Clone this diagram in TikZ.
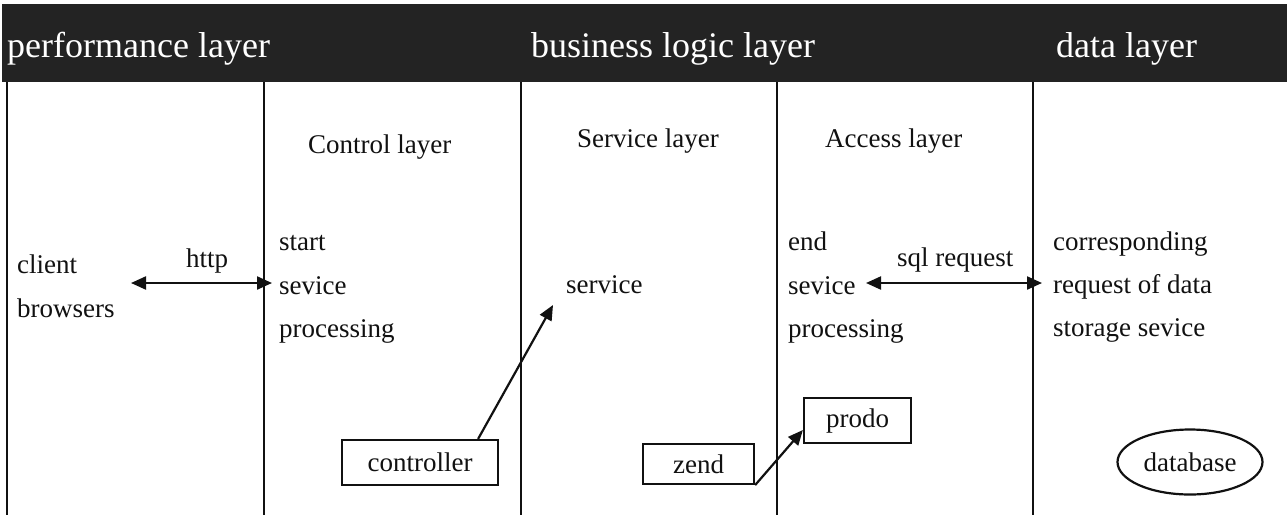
\documentclass[tikz,border=0pt]{standalone}
\usepackage{fontspec}
\setmainfont{Liberation Serif}
\usetikzlibrary{arrows.meta,shapes.geometric}
\definecolor{hdr}{HTML}{232323}
\definecolor{ink}{HTML}{111111}
\tikzset{
  hdrtext/.style={anchor=base west,inner sep=0pt,text=white,font=\fontsize{36}{40}\selectfont},
  bodytext/.style={anchor=base west,inner sep=0pt,text=ink,font=\fontsize{27}{32}\selectfont},
  sep/.style={draw=ink,line width=2.8pt},
  boxnode/.style={draw=ink,line width=2.2pt,rectangle,inner sep=0pt,text=ink,font=\fontsize{27}{32}\selectfont},
  ellnode/.style={draw=ink,line width=2.2pt,ellipse,inner sep=0pt,text=ink,font=\fontsize{27}{32}\selectfont},
  conn/.style={draw=ink,line width=2.2pt},
  tip/.style={-{Triangle[length=15pt,width=13pt]}},
  twotip/.style={{Triangle[length=15pt,width=13pt]}-{Triangle[length=15pt,width=13pt]}}
}
\begin{document}
\begin{tikzpicture}[x=1pt,y=-1pt]
\useasboundingbox (0,0) rectangle (1287,515);
\fill[white] (0,0) rectangle (1287,515);
% header bar
\fill[hdr] (2,4) rectangle (1287,82);
\node[hdrtext] (hp) at (7,57) {performance layer};
\node[hdrtext] (hb) at (531,57) {business logic layer};
\node[hdrtext] (hd) at (1056,57) {data layer};
% column separators
\draw[sep] (7,82) -- (7,515);
\draw[sep] (264,82) -- (264,515);
\draw[sep] (521,82) -- (521,515);
\draw[sep] (777,82) -- (777,515);
\draw[sep] (1033,82) -- (1033,515);
% sub-layer titles
\node[bodytext] (tc) at (308,153) {Control layer};
\node[bodytext] (ts) at (577,147) {Service layer};
\node[bodytext] (ta) at (825,147) {Access layer};
% column 1
\node[bodytext] (c1) at (17,273) {client};
\node[bodytext] (c2) at (17,317) {browsers};
\node[bodytext] (http) at (186,267) {http};
% column 2
\node[bodytext] (s1) at (279,250) {start};
\node[bodytext] (s2) at (279,294) {sevice};
\node[bodytext] (s3) at (279,337) {processing};
% column 3
\node[bodytext] (sv) at (566,293) {service};
% column 4
\node[bodytext] (e1) at (788,250) {end};
\node[bodytext] (e2) at (788,294) {sevice};
\node[bodytext] (e3) at (788,337) {processing};
\node[bodytext] (sql) at (897,266) {sql request};
% column 5
\node[bodytext] (d1) at (1053,250) {corresponding};
\node[bodytext] (d2) at (1053,293) {request of data};
\node[bodytext] (d3) at (1053,336) {storage sevice};
% boxes
\node[boxnode,minimum width=156pt,minimum height=45pt] (ctrl) at (420,462.5) {controller};
\node[boxnode,minimum width=111pt,minimum height=40pt] (zend) at (698.5,464) {zend};
\node[boxnode,minimum width=107pt,minimum height=45pt] (prodo) at (857.5,420.5) {prodo};
\node[ellnode,minimum width=145pt,minimum height=65pt] (db) at (1190,462) {database};
% connector endpoints
\coordinate (hL) at (131,283);
\coordinate (hR) at (272,283);
\coordinate (qL) at (866,283);
\coordinate (qR) at (1042,283);
\coordinate (svc) at (553,305);
% connectors
\draw[conn,twotip] (hL) -- (hR);
\draw[conn,twotip] (qL) -- (qR);
\draw[conn,tip] (ctrl.north east) ++(-21,0) coordinate (cs) (cs) -- (svc);
\draw[conn,tip] (zend.south east) -- (prodo.west |- 0,430);
\end{tikzpicture}
\end{document}
